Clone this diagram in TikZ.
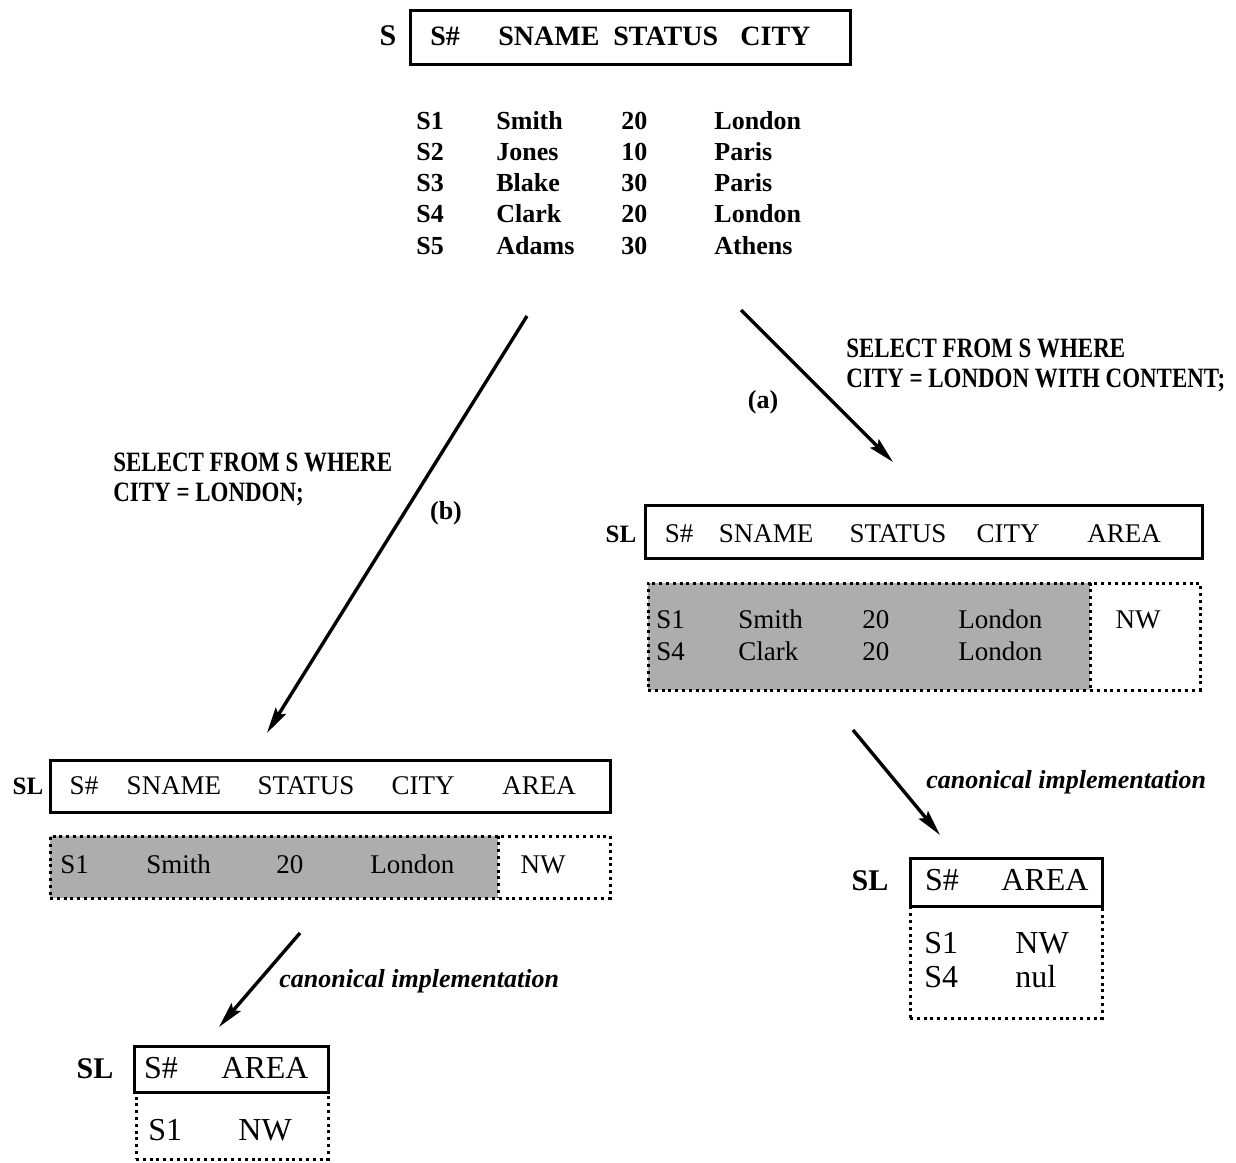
\documentclass[tikz,border=0pt]{standalone}
\usepackage{fontspec}
\setmainfont{Liberation Serif}
\newfontfamily\qryfont{Liberation Serif}[FakeStretch=0.82]
\usetikzlibrary{arrows.meta}

\begin{document}
\begin{tikzpicture}[x=0.5pt,y=-0.5pt,
hdr/.style={draw,line width=1.5pt,inner sep=0pt},
dat/.style={draw,line width=1.5pt,dash pattern=on 1.5pt off 1.9pt,inner sep=0pt},
shd/.style={fill=black!32,inner sep=0pt},
txt/.style={inner sep=0pt,text height=0.7em,text depth=0.2em},
tb/.style={txt,font=\fontsize{13}{13}\selectfont\bfseries},
th/.style={txt,anchor=west,font=\fontsize{14}{14}\selectfont\bfseries},
tr/.style={txt,font=\fontsize{13.5}{13.5}\selectfont},
tc/.style={txt,font=\fontsize{16}{16}\selectfont},
lbl/.style={txt,font=\fontsize{15}{15}\selectfont\bfseries},
qry/.style={inner sep=0pt,align=left,anchor=west,font=\fontsize{14}{15}\selectfont\qryfont\bfseries},
can/.style={txt,anchor=west,font=\fontsize{13}{13}\selectfont\bfseries\itshape},
arr/.style={line width=1.7pt,-{Stealth[length=13pt,width=6pt,inset=2pt]}}]
\useasboundingbox (0,0) rectangle (1236,1162);
\node[hdr,minimum width=220pt,minimum height=27pt] (S) at (630,37) {};
\node[lbl] (Slbl) at (388,40) {S};
\foreach \x/\1 in %
{430/S\#,498/SNAME,613/STATUS,740/CITY} {
   \node[th] (Sh\x) at (\x,40) {\1};
}
\foreach \y/\1/\2/\3/\4 in %
{124/S1/Smith/20/London,155/S2/Jones/10/Paris,186/S3/Blake/30/Paris,%
217/S4/Clark/20/London,249/S5/Adams/30/Athens} {
   \node[tb,anchor=west] (S\1) at (416,\y) {\1};
   \node[tb,anchor=west] (S\1n) at (496,\y) {\2};
   \node[tb,anchor=west] (S\1s) at (621,\y) {\3};
   \node[tb,anchor=west] (S\1c) at (714,\y) {\4};
}
\coordinate (a0) at (741,310);
\coordinate (a1) at (893,462);
\coordinate (b0) at (527,316);
\coordinate (b1) at (267,733);
\draw[arr] (a0) -- (a1);
\draw[arr] (b0) -- (b1);
\node[tb] (alb) at (763,403) {(a)};
\node[tb] (blb) at (446,514) {(b)};
\node[qry] (aqry) at (846,365) {SELECT FROM S WHERE\\CITY = LONDON WITH CONTENT;};
\node[qry] (bqry) at (113,479) {SELECT FROM S WHERE\\CITY = LONDON;};
\node[hdr,minimum width=278.5pt,minimum height=26.5pt] (SLa) at (923.5,531.5) {};
\node[lbl,font=\fontsize{12.5}{12.5}\selectfont\bfseries] (SLalbl) at (621,537) {SL};
\foreach \x/\1 in %
{679/S\#,766/SNAME,898/STATUS,1008/CITY,1124/AREA} {
   \node[tr] (SLah\x) at (\x,537) {\1};
}
\node[shd,minimum width=221pt,minimum height=53.5pt] (SLarows) at (869,636.5) {};
\node[dat,minimum width=276pt,minimum height=53.5pt] (SLadat) at (924,636.5) {};
\draw[dat] (SLarows.north east) -- (SLarows.south east);
\foreach \y/\1/\2/\3/\4 in %
{623/S1/Smith/20/London,655/S4/Clark/20/London} {
   \node[tr,anchor=west] (SLa\1) at (656,\y) {\1};
   \node[tr,anchor=west] (SLa\1n) at (738,\y) {\2};
   \node[tr,anchor=west] (SLa\1s) at (862,\y) {\3};
   \node[tr,anchor=west] (SLa\1c) at (958,\y) {\4};
}
\node[tr] (SLanw) at (1138,623) {NW};
\node[hdr,minimum width=280pt,minimum height=26pt] (SLb) at (330,786) {};
\node[lbl,font=\fontsize{12.5}{12.5}\selectfont\bfseries] (SLblbl) at (28,789) {SL};
\foreach \x/\1 in %
{84/S\#,174/SNAME,306/STATUS,423/CITY,539/AREA} {
   \node[tr] (SLbh\x) at (\x,789) {\1};
}
\node[shd,minimum width=224pt,minimum height=31pt] (SLbrows) at (274,867) {};
\node[dat,minimum width=280pt,minimum height=31pt] (SLbdat) at (330,867) {};
\draw[dat] (SLbrows.north east) -- (SLbrows.south east);
\node[tr,anchor=west] (SLbS1) at (60,868) {S1};
\node[tr,anchor=west] (SLbS1n) at (146,868) {Smith};
\node[tr,anchor=west] (SLbS1s) at (276,868) {20};
\node[tr,anchor=west] (SLbS1c) at (370,868) {London};
\node[tr] (SLbnw) at (543,868) {NW};
\coordinate (ca0) at (853,730);
\coordinate (ca1) at (940,835);
\coordinate (cb0) at (300,933);
\coordinate (cb1) at (219,1027);
\draw[arr] (ca0) -- (ca1);
\draw[arr] (cb0) -- (cb1);
\node[can] (calb) at (926,783) {canonical implementation};
\node[can] (cblb) at (279,982) {canonical implementation};
\node[hdr,minimum width=96pt,minimum height=24pt] (CSa) at (1006,882) {};
\node[dat,minimum width=96pt,minimum height=56pt] (CSarows) at (1006,962) {};
\node[lbl] (CSalbl) at (870,885) {SL};
\node[tc] (CSah1) at (942,885) {S\#};
\node[tc] (CSah2) at (1045,885) {AREA};
\foreach \y/\1/\2 in %
{948/S1/NW,982/S4/nul} {
   \node[tc,anchor=west] (CSa\1) at (924,\y) {\1};
   \node[tc,anchor=west] (CSa\1a) at (1015,\y) {\2};
}
\node[hdr,minimum width=97pt,minimum height=23pt] (CSb) at (231,1069) {};
\node[dat,minimum width=96pt,minimum height=33.5pt] (CSbrows) at (232,1125.5) {};
\node[lbl] (CSblbl) at (95,1073) {SL};
\node[tc] (CSbh1) at (161,1073) {S\#};
\node[tc] (CSbh2) at (265,1073) {AREA};
\node[tc,anchor=west] (CSbS1) at (148,1135) {S1};
\node[tc,anchor=west] (CSbS1a) at (238,1135) {NW};
\end{tikzpicture}
\end{document}
